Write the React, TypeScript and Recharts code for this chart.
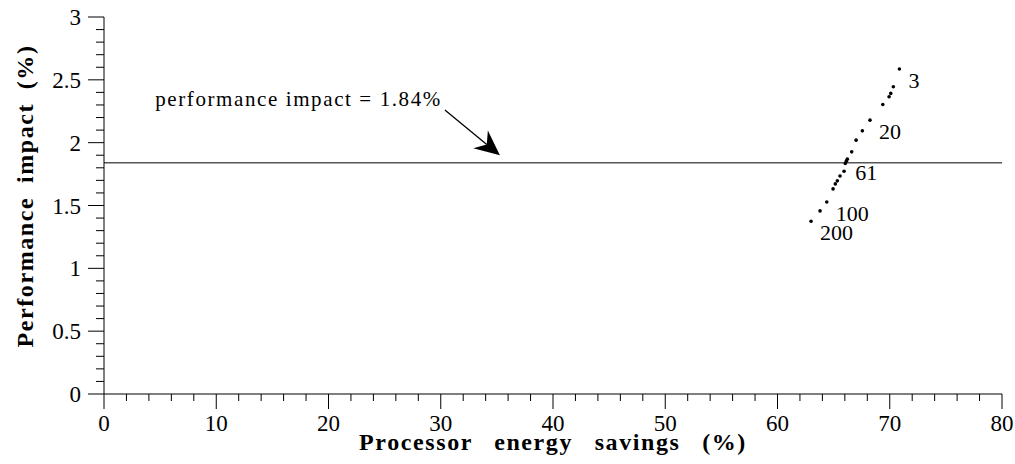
import React from "react";
import {
  ScatterChart,
  Scatter,
  XAxis,
  YAxis,
  ReferenceLine,
  LabelList,
} from "recharts";

// energy savings (%) vs performance impact (%) per run
const energySavings = [
  70.86, 70.32, 70.09, 69.94, 69.38, 68.24, 67.56, 67.0, 66.61, 66.22,
  66.13, 66.04, 65.93, 65.57, 65.33, 65.15, 64.95, 64.39, 63.79, 62.99,
];
const perfImpact = [
  2.586, 2.445, 2.392, 2.365, 2.304, 2.179, 2.094, 2.02, 1.927, 1.869,
  1.853, 1.834, 1.773, 1.735, 1.696, 1.672, 1.632, 1.528, 1.457, 1.375,
];
const pointTags = [
  "3", "", "", "", "", "20", "", "", "", "",
  "61", "", "", "", "", "", "", "100", "", "200",
];

const threshold = 1.84;
const thresholdText = "performance impact = 1.84%";
const arrowFrom = { x: 30.37, y: 2.259 };
const arrowTo = { x: 35.27, y: 1.9 };

const xMajor = [0, 10, 20, 30, 40, 50, 60, 70, 80];
const yMajor = [0, 0.5, 1, 1.5, 2, 2.5, 3];
const xTicks = Array.from({ length: 41 }, (_, i) => i * 2);
const yTicks = Array.from({ length: 31 }, (_, i) => i / 10);

const FONT = "'Liberation Serif', 'Times New Roman', serif";

const data = energySavings.map((x, i) => ({
  x,
  y: perfImpact[i],
  tag: pointTags[i],
}));

function XTick(props: any) {
  const { x, y, payload } = props;
  const v = payload.value;
  const major = xMajor.includes(v);
  return (
    <g>
      <line x1={x} x2={x} y1={y} y2={y + (major ? 15 : 7)} stroke="#000" />
      {major && (
        <text x={x} y={y + 37} textAnchor="middle" fontSize={23} fontFamily={FONT} fill="#000">
          {v}
        </text>
      )}
    </g>
  );
}

function YTick(props: any) {
  const { x, y, payload } = props;
  const v = Math.round(payload.value * 10) / 10;
  const major = yMajor.includes(v);
  return (
    <g>
      <line x1={x - (major ? 16 : 8)} x2={x} y1={y} y2={y} stroke="#000" />
      {major && (
        <text x={x - 23} y={y + 8} textAnchor="end" fontSize={23} fontFamily={FONT} fill="#000">
          {v}
        </text>
      )}
    </g>
  );
}

function ArrowShape(props: any) {
  const { x1, y1, x2, y2 } = props;
  if ([x1, y1, x2, y2].some((n) => typeof n !== "number")) return null;
  const dx = x2 - x1;
  const dy = y2 - y1;
  const len = Math.sqrt(dx * dx + dy * dy);
  const ux = dx / len;
  const uy = dy / len;
  const nx = -uy;
  const ny = ux;
  const head = 25;
  const half = 11.5;
  const notch = 17;
  const pts = [
    [x2, y2],
    [x2 - ux * head + nx * half, y2 - uy * head + ny * half],
    [x2 - ux * notch, y2 - uy * notch],
    [x2 - ux * head - nx * half, y2 - uy * head - ny * half],
  ]
    .map((p) => p.join(","))
    .join(" ");
  return (
    <g>
      <line x1={x1} y1={y1} x2={x2 - ux * notch} y2={y2 - uy * notch} stroke="#000" strokeWidth={1.3} />
      <polygon points={pts} fill="#000" />
      <text
        x={x1 - 3}
        y={y1 - 4}
        textAnchor="end"
        fontSize={21}
        letterSpacing={1.6}
        fontFamily={FONT}
        fill="#000"
      >
        {thresholdText}
      </text>
    </g>
  );
}

function TagLabel(props: any) {
  const { x, y, width, height, value } = props;
  if (!value) return null;
  const cx = x + (width || 0) / 2;
  const cy = y + (height || 0) / 2;
  return (
    <text x={cx + 9} y={cy + 19} fontSize={22} fontFamily={FONT} fill="#000">
      {value}
    </text>
  );
}

function Dot(props: any) {
  return <circle cx={props.cx} cy={props.cy} r={1.8} fill="#000" />;
}

const xTitle = () => (
  <text
    x={553}
    y={450}
    textAnchor="middle"
    fontSize={24}
    fontWeight="bold"
    letterSpacing={1.6}
    wordSpacing={14}
    fontFamily={FONT}
    fill="#000"
  >
    Processor energy savings (%)
  </text>
);

const yTitle = () => (
  <text
    x={0}
    y={0}
    transform="translate(33,196) rotate(-90)"
    textAnchor="middle"
    fontSize={24}
    fontWeight="bold"
    letterSpacing={1.6}
    wordSpacing={6}
    fontFamily={FONT}
    fill="#000"
  >
    Performance impact (%)
  </text>
);

export default function App() {
  return (
    <div style={{ width: 1015, height: 464, background: "#fff" }}>
      <style>{`body{margin:0}`}</style>
      <ScatterChart
        width={1015}
        height={464}
        margin={{ top: 17, right: 13, bottom: 0, left: 0 }}
      >
        <XAxis
          type="number"
          dataKey="x"
          domain={[0, 80]}
          ticks={xTicks}
          interval={0}
          height={70}
          tickSize={0}
          tickMargin={0}
          tickLine={false}
          tick={<XTick />}
          axisLine={{ stroke: "#000" }}
          allowDataOverflow
          label={xTitle}
        />
        <YAxis
          type="number"
          dataKey="y"
          domain={[0, 3]}
          ticks={yTicks}
          interval={0}
          width={104}
          tickSize={0}
          tickMargin={0}
          tickLine={false}
          tick={<YTick />}
          axisLine={{ stroke: "#000" }}
          allowDataOverflow
          label={yTitle}
        />
        <ReferenceLine y={threshold} stroke="#555" strokeWidth={1.5} />
        <ReferenceLine
          segment={[arrowFrom, arrowTo]}
          shape={<ArrowShape />}
          ifOverflow="visible"
        />
        <Scatter data={data} shape={<Dot />} isAnimationActive={false}>
          <LabelList dataKey="tag" content={<TagLabel />} />
        </Scatter>
      </ScatterChart>
    </div>
  );
}
